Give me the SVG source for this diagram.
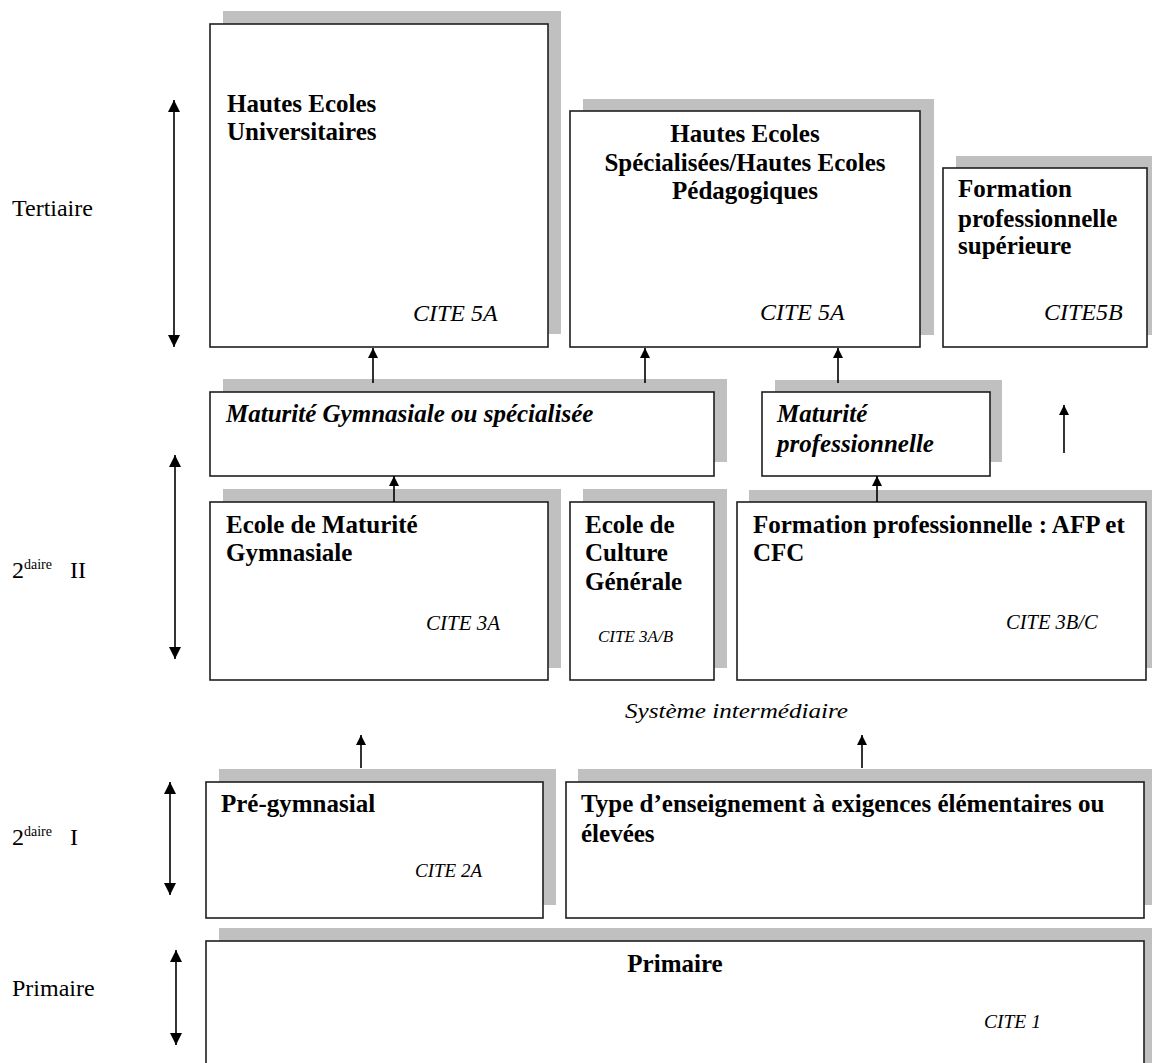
<svg xmlns="http://www.w3.org/2000/svg" width="1152" height="1063" viewBox="0 0 1152 1063">
<style>
.bg{fill:#ffffff}
.sh{fill:#c0c0c0}
.bx{fill:#ffffff;stroke:#1e1e1e;stroke-width:1.6}
.t{font-family:"Liberation Serif","Times New Roman",serif;fill:#000}
.b{font-weight:bold;font-size:25px}
.i{font-style:italic}
.bi{font-weight:bold;font-style:italic;font-size:25px}
.lvl{font-size:24px}
.ln{stroke:#000;stroke-width:1.6;fill:none}
</style>
<defs>
<marker id="ah" markerUnits="userSpaceOnUse" markerWidth="12" markerHeight="12" viewBox="0 0 12 12" refX="12" refY="6" orient="auto-start-reverse">
<path d="M0,0 L12,6 L0,12 z" fill="#000"/>
</marker>
<marker id="as" markerUnits="userSpaceOnUse" markerWidth="10" markerHeight="10" viewBox="0 0 10 10" refX="10" refY="5" orient="auto">
<path d="M0,0 L10,5 L0,10 z" fill="#000"/>
</marker>
</defs>
<rect class="bg" x="0" y="0" width="1152" height="1063"/>

<g id="labels">
<text class="t lvl" x="12" y="216">Tertiaire</text>
<text class="t lvl" x="12" y="578">2<tspan font-size="14" dy="-9">daire</tspan><tspan x="70" dy="9">II</tspan></text>
<text class="t lvl" x="12" y="845">2<tspan font-size="14" dy="-9">daire</tspan><tspan x="70" dy="9">I</tspan></text>
<text class="t lvl" x="12" y="996">Primaire</text>
</g>

<g id="heu">
<rect class="sh" x="223" y="11" width="338" height="323"/>
<rect class="bx" x="210" y="24" width="338" height="323"/>
<text class="t b" x="227" y="112">Hautes Ecoles</text>
<text class="t b" x="227" y="140">Universitaires</text>
<text class="t i" font-size="24" x="413" y="321">CITE 5A</text>
</g>

<g id="hes">
<rect class="sh" x="583" y="99" width="351" height="236"/>
<rect class="bx" x="570" y="111" width="350" height="236"/>
<text class="t b" x="745" y="142" text-anchor="middle">Hautes Ecoles</text>
<text class="t b" x="745" y="171" text-anchor="middle">Spécialisées/Hautes Ecoles</text>
<text class="t b" x="745" y="199" text-anchor="middle">Pédagogiques</text>
<text class="t i" font-size="24" x="760" y="320">CITE 5A</text>
</g>

<g id="fps">
<rect class="sh" x="956" y="156" width="210" height="179"/>
<rect class="bx" x="943" y="168" width="204" height="179"/>
<text class="t b" x="958" y="197">Formation</text>
<text class="t b" x="958" y="227">professionnelle</text>
<text class="t b" x="958" y="254">supérieure</text>
<text class="t i" font-size="24" x="1044" y="320">CITE5B</text>
</g>

<g id="matg">
<rect class="sh" x="223" y="379" width="504" height="83"/>
<rect class="bx" x="210" y="392" width="504" height="84"/>
<text class="t bi" x="226" y="422">Maturité Gymnasiale ou spécialisée</text>
</g>

<g id="matp">
<rect class="sh" x="775" y="380" width="227" height="82"/>
<rect class="bx" x="762" y="392" width="228" height="84"/>
<text class="t bi" x="777" y="422">Maturité</text>
<text class="t bi" x="777" y="452">professionnelle</text>
</g>

<g id="emg">
<rect class="sh" x="223" y="489" width="338" height="179"/>
<rect class="bx" x="210" y="502" width="338" height="178"/>
<text class="t b" x="226" y="533">Ecole de Maturité</text>
<text class="t b" x="226" y="561">Gymnasiale</text>
<text class="t i" font-size="21" x="426" y="630">CITE 3A</text>
</g>

<g id="ecg">
<rect class="sh" x="583" y="489" width="144" height="179"/>
<rect class="bx" x="570" y="502" width="144" height="178"/>
<text class="t b" x="585" y="533">Ecole de</text>
<text class="t b" x="585" y="561">Culture</text>
<text class="t b" x="585" y="590">Générale</text>
<text class="t i" font-size="17" x="598" y="642">CITE 3A/B</text>
</g>

<g id="fp">
<rect class="sh" x="749" y="490" width="420" height="178"/>
<rect class="bx" x="737" y="502" width="409" height="178"/>
<text class="t b" x="753" y="533">Formation professionnelle : AFP et</text>
<text class="t b" x="753" y="561">CFC</text>
<text class="t i" font-size="20.5" x="1006" y="629">CITE 3B/C</text>
</g>

<g id="si">
<text class="t i" font-size="21" x="625" y="718" textLength="223" lengthAdjust="spacingAndGlyphs">Système intermédiaire</text>
</g>

<g id="pg">
<rect class="sh" x="219" y="769" width="337" height="136"/>
<rect class="bx" x="206" y="782" width="337" height="136"/>
<text class="t b" x="221" y="812">Pré-gymnasial</text>
<text class="t i" font-size="19" x="415" y="877">CITE 2A</text>
</g>

<g id="type">
<rect class="sh" x="578" y="769" width="590" height="136"/>
<rect class="bx" x="566" y="782" width="578" height="136"/>
<text class="t b" x="581" y="812">Type d’enseignement à exigences élémentaires ou</text>
<text class="t b" x="581" y="842">élevées</text>
</g>

<g id="prim">
<rect class="sh" x="219" y="928" width="950" height="150"/>
<rect class="bx" x="206" y="941" width="938" height="140"/>
<text class="t b" x="675" y="972" text-anchor="middle">Primaire</text>
<text class="t i" font-size="19.5" x="984" y="1028">CITE 1</text>
</g>

<g id="connectors">
<line class="ln" x1="174" y1="100" x2="174" y2="347" marker-start="url(#ah)" marker-end="url(#ah)"/>
<line class="ln" x1="175" y1="455" x2="175" y2="659" marker-start="url(#ah)" marker-end="url(#ah)"/>
<line class="ln" x1="170" y1="782" x2="170" y2="895" marker-start="url(#ah)" marker-end="url(#ah)"/>
<line class="ln" x1="176" y1="950" x2="176" y2="1045" marker-start="url(#ah)" marker-end="url(#ah)"/>
<line class="ln" x1="373" y1="383" x2="373" y2="348" marker-end="url(#as)"/>
<line class="ln" x1="645" y1="383" x2="645" y2="348" marker-end="url(#as)"/>
<line class="ln" x1="838" y1="383" x2="838" y2="348" marker-end="url(#as)"/>
<line class="ln" x1="1064" y1="453" x2="1064" y2="405" marker-end="url(#as)"/>
<line class="ln" x1="394" y1="502" x2="394" y2="476" marker-end="url(#as)"/>
<line class="ln" x1="877" y1="502" x2="877" y2="476" marker-end="url(#as)"/>
<line class="ln" x1="361" y1="768" x2="361" y2="735" marker-end="url(#as)"/>
<line class="ln" x1="862" y1="768" x2="862" y2="735" marker-end="url(#as)"/>
</g>
</svg>
